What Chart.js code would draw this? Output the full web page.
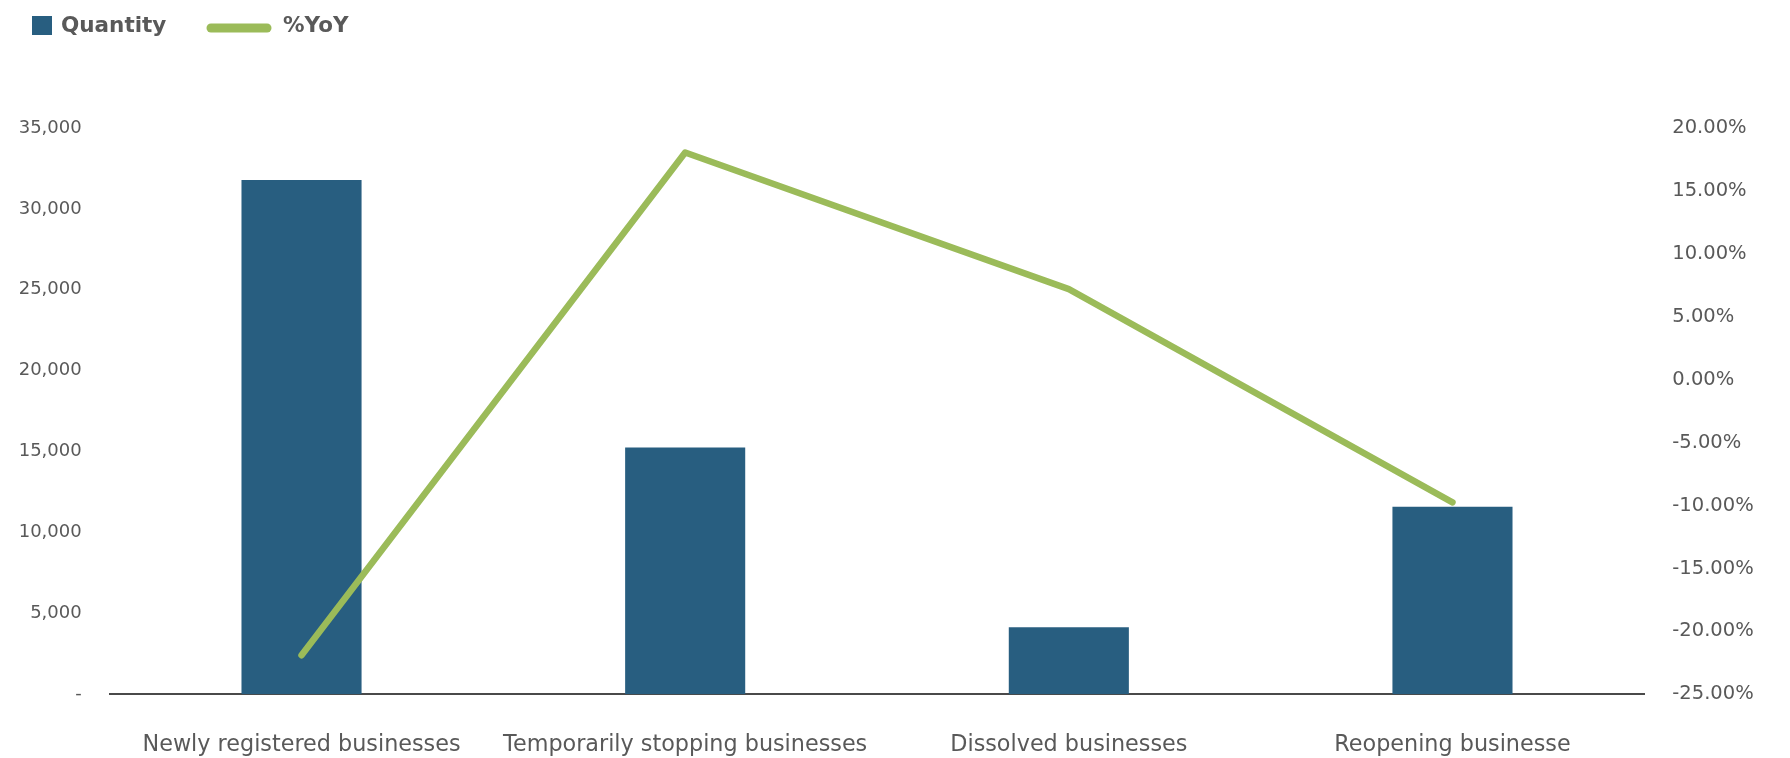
<!DOCTYPE html>
<html>
<head>
<meta charset="utf-8">
<script src="https://cdn.jsdelivr.net/npm/chart.js@4/dist/chart.umd.min.js"></script>
<style>
  html, body { margin: 0; padding: 0; background: #fff; }
  canvas { display: block; }
</style>
</head>
<body>
<canvas id="businesses" width="1790" height="758"></canvas>
<script>
const categories = ['Newly registered businesses', 'Temporarily stopping businesses', 'Dissolved businesses', 'Reopening businesse'];
const quantity = [31780, 15250, 4140, 11590];
const yoyPercent = [-21.9, 18.05, 7.2, -9.75];

const quantityTicks = [0, 5000, 10000, 15000, 20000, 25000, 30000, 35000];
const yoyTicks = [-25, -20, -15, -10, -5, 0, 5, 10, 15, 20];

const barColor = '#285e80';
const lineColor = '#9bbb59';
const textColor = '#595959';

// legend drawn by hand: square for the bars, short thick line for %YoY
const legendPlugin = {
  id: 'topLegend',
  afterDraw(chart) {
    const ctx = chart.ctx;
    const sets = chart.data.datasets;
    ctx.save();
    ctx.font = 'bold 21.5px "DejaVu Sans"';
    ctx.textBaseline = 'middle';
    ctx.fillStyle = sets[0].backgroundColor;
    ctx.fillRect(32, 16, 20, 19);
    ctx.fillStyle = textColor;
    ctx.fillText(sets[0].label, 61, 26);

    ctx.strokeStyle = sets[1].borderColor;
    ctx.lineWidth = 9;
    ctx.lineCap = 'round';
    ctx.beginPath();
    ctx.moveTo(211, 28);
    ctx.lineTo(267, 28);
    ctx.stroke();
    ctx.fillStyle = textColor;
    ctx.fillText(sets[1].label, 283, 26);
    ctx.restore();
  }
};

const ctx = document.getElementById('businesses');

const myChart = new Chart(ctx, {
  type: 'bar',
  data: {
    labels: categories,
    datasets: [
      {
        type: 'bar',
        label: 'Quantity',
        data: quantity,
        yAxisID: 'qty',
        backgroundColor: barColor,
        borderWidth: 0,
        categoryPercentage: 1,
        barPercentage: 0.313,
        order: 1
      },
      {
        type: 'line',
        label: '%YoY',
        data: yoyPercent,
        yAxisID: 'yoy',
        borderColor: lineColor,
        backgroundColor: lineColor,
        borderWidth: 6.5,
        borderCapStyle: 'round',
        borderJoinStyle: 'round',
        pointRadius: 0,
        tension: 0,
        order: 0
      }
    ]
  },
  options: {
    responsive: false,
    animation: false,
    layout: { padding: { top: 128, left: 0, right: 0, bottom: 0 } },
    plugins: {
      legend: { display: false },
      tooltip: { enabled: false }
    },
    scales: {
      x: {
        grid: { display: false },
        border: { display: true, color: '#4a4a4a', width: 2 },
        ticks: {
          color: textColor,
          font: { family: 'DejaVu Sans', size: 22.3 },
          padding: 30,
          maxRotation: 0,
          autoSkip: false
        },
        afterFit: function (scale) { scale.height = 63.7; }
      },
      qty: {
        type: 'linear',
        position: 'left',
        min: 0,
        max: 35000,
        grid: { display: false },
        border: { display: false },
        afterBuildTicks: function (scale) {
          scale.ticks = quantityTicks.map(v => ({ value: v }));
        },
        ticks: {
          color: textColor,
          font: { family: 'DejaVu Sans', size: 18 },
          padding: 20,
          callback: function (value) {
            return value === 0 ? '-' : value.toLocaleString('en-US');
          }
        },
        afterFit: function (scale) { scale.width = 109.7; }
      },
      yoy: {
        type: 'linear',
        position: 'right',
        min: -25,
        max: 20,
        grid: { display: false },
        border: { display: false },
        afterBuildTicks: function (scale) {
          scale.ticks = yoyTicks.map(v => ({ value: v }));
        },
        ticks: {
          color: textColor,
          font: { family: 'DejaVu Sans', size: 19.5 },
          padding: 20,
          callback: function (value) {
            return value.toFixed(2) + '%';
          }
        },
        afterFit: function (scale) { scale.width = 145.7; }
      }
    }
  },
  plugins: [legendPlugin]
});
</script>
</body>
</html>
